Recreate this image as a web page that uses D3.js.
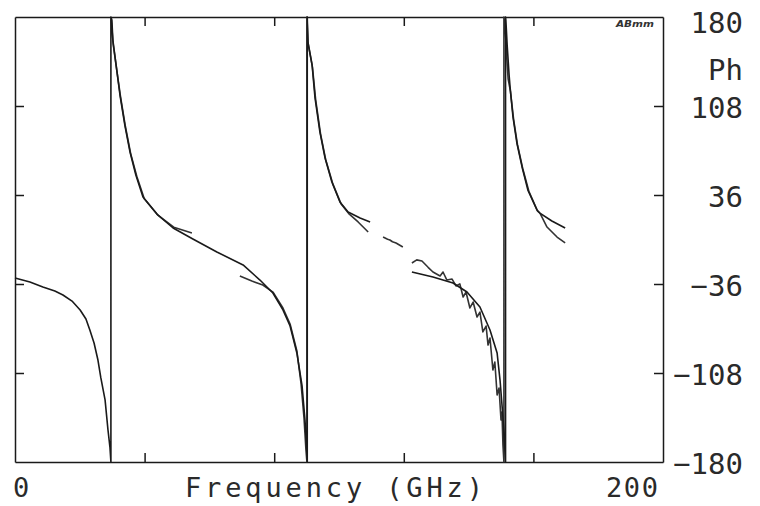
<!DOCTYPE html>
<html>
<head>
<meta charset="utf-8">
<script src="https://cdn.jsdelivr.net/npm/d3@7"></script>
<style>
  body { margin: 0; background: #fff; }
  .lbl { font-family: "DejaVu Sans Mono", monospace; font-size: 29px; fill: #2a2a2a; }
  .xlbl { font-family: "DejaVu Sans Mono", monospace; font-size: 27px; fill: #2a2a2a; }
  .axis path, .axis line { stroke: #1a1a1a; stroke-width: 1.5; }
</style>
</head>
<body>
<div id="chart"></div>
<script>
// phase (deg) vs frequency (GHz), two overlaid traces, null = gap
const freqTicks = [40, 80, 120, 160];
const phaseTicks = [108, 36, -36, -108];
const phaseLabels = [180, 108, 36, -36, -108, -180];

const traceA = [
  [0, -31.1], [4.6, -34.4], [8.6, -38.4], [12.3, -41.7], [14.8, -44.9], [17.6, -49.8], [20.1, -57.0],
  [21.9, -64.3], [23.1, -73.2], [24.4, -83.7], [25.6, -97.5], [26.5, -112.0], [27.8, -129.8],
  [28.7, -154.1], [29.3, -167.9], [29.6, -180],
  [29.6, 180], [29.9, 177.6], [30.2, 161.4], [31.2, 141.2], [32.4, 116.9], [33.9, 92.6],
  [35.5, 70.8], [37.3, 52.2], [39.5, 34.4], [43.8, 20.6], [48.8, 9.3], [54.9, 0.4],
  [62.3, -10.1], [70.4, -20.6], [75.6, -32.8], [79.6, -43.3], [82.7, -57.0], [84.9, -70.0],
  [87.0, -91.8], [88.6, -118.5], [89.5, -146.0], [90.1, -172.7], [90.2, -180],
  [90.2, 180], [90.4, 159.8], [91.7, 141.2], [92.6, 114.5], [94.1, 87.0], [95.7, 65.9],
  [97.8, 46.5], [100.3, 30.3], [102.8, 22.2], [106.5, 17.4], [109.6, 14.2],
  null,
  [122.5, -26.3], [129.0, -30.3], [135.2, -35.2], [139.5, -42.5], [143.5, -54.6],
  [146.6, -73.2], [148.8, -91.8], [149.7, -113.7], [150.6, -143.6], [151.2, -170.3], [151.4, -180],
  [151.4, 180], [151.5, 177.6], [151.9, 157.3], [152.5, 133.1], [152.8, 123.4], [153.7, 99.1],
  [154.9, 78.1], [156.5, 58.7], [158.3, 40.0], [161.1, 23.9], [162.0, 21.4], [165.7, 15.0], [169.8, 9.3]
];

const traceB = [
  [29.7, 178], [30.3, 158], [31.3, 139], [32.6, 115], [34.1, 91], [35.7, 69.5], [37.6, 51],
  [39.9, 33], [44.2, 19.5], [49.0, 10], [54.6, 5.3],
  null,
  [69.4, -29.5], [73.1, -33.6], [76.5, -36.8], [79.6, -42.5], [82.7, -55.4], [84.9, -68.4],
  [87.0, -90.2], [88.3, -116.9], [89.2, -144.4], [89.8, -170.3], [90.1, -180],
  [90.1, 180], [90.5, 158], [91.8, 139.5], [92.8, 113], [94.3, 85.5], [95.9, 64.5], [98.1, 45],
  [100.6, 29], [103.0, 21], [105.9, 14.2], [109.0, 6.1],
  null,
  [113.6, 2.0], [115.0, 0.2], [115.7, -0.4], [116.5, -1.8], [117.6, -2.8], [119.7, -6.1],
  null,
  [122.5, -19.0], [124.0, -16.5], [125.6, -17.4], [127.5, -22.5], [129.0, -26.3], [131.2, -29.5],
  [132.1, -26.3], [133.3, -32.8], [134.9, -32.0], [136.1, -37.6], [137.3, -35.9], [138.3, -46.5],
  [139.2, -42.5], [140.4, -55.4], [141.4, -50.6], [142.6, -62.7], [143.5, -58.7], [144.4, -74.8],
  [145.4, -70.0], [146.0, -85.4], [146.6, -79.7], [147.5, -105.6], [148.1, -99.1], [148.8, -125.8],
  [149.4, -120.1], [150.0, -146.0], [150.3, -139.6], [150.6, -166.2], [150.9, -180],
  [150.9, 180], [151.3, 172], [151.7, 150], [152.2, 130], [152.9, 120], [153.9, 97], [155.1, 76.5],
  [156.7, 57.5], [158.6, 39], [161.3, 23], [162.1, 21], [164.2, 10.1], [167.3, 2.0], [169.8, -2.8]
];

let margin = { top: 17, left: 15, right: 97, bottom: 44 };
let width = 760 - margin.left - margin.right;   // 648
let height = 506 - margin.top - margin.bottom;  // 445

let svg = d3.select("#chart").append("svg")
  .attr("width", 760)
  .attr("height", 506);

let x = d3.scaleLinear().domain([0, 200]).range([margin.left, margin.left + width]);
let y = d3.scaleLinear().domain([-180, 180]).range([margin.top + height, margin.top]);

// frame + inward ticks
svg.append("g").attr("class", "axis")
  .attr("transform", "translate(0," + y(-180) + ")")
  .call(d3.axisBottom(x).tickValues(freqTicks).tickSize(-9).tickSizeOuter(0).tickFormat(""));
svg.append("g").attr("class", "axis")
  .attr("transform", "translate(0," + y(180) + ")")
  .call(d3.axisTop(x).tickValues(freqTicks).tickSize(-9).tickSizeOuter(0).tickFormat(""));
svg.append("g").attr("class", "axis")
  .attr("transform", "translate(" + x(0) + ",0)")
  .call(d3.axisLeft(y).tickValues(phaseTicks).tickSize(-9).tickSizeOuter(0).tickFormat(""));
svg.append("g").attr("class", "axis")
  .attr("transform", "translate(" + x(200) + ",0)")
  .call(d3.axisRight(y).tickValues(phaseTicks).tickSize(-9).tickSizeOuter(0).tickFormat(""));

let line = d3.line()
  .defined(d => d !== null)
  .x(d => x(d[0]))
  .y(d => y(d[1]));

svg.append("path").datum(traceB)
  .attr("d", line)
  .attr("fill", "none")
  .attr("stroke", "#333")
  .attr("stroke-width", 1.6)
  .attr("stroke-linejoin", "round");

svg.append("path").datum(traceA)
  .attr("d", line)
  .attr("fill", "none")
  .attr("stroke", "#1a1a1a")
  .attr("stroke-width", 1.6)
  .attr("stroke-linejoin", "round");

// right-hand phase labels
svg.selectAll(".ylab")
  .data(phaseLabels)
  .enter().append("text")
  .attr("class", "lbl ylab")
  .attr("x", 743)
  .attr("y", d => Math.max(y(d) + 2, 23))
  .attr("dy", "0.35em")
  .attr("text-anchor", "end")
  .text(d => d < 0 ? "\u2212" + Math.abs(d) : d);

svg.append("text").attr("class", "lbl")
  .attr("x", 743).attr("y", 70).attr("dy", "0.35em")
  .attr("text-anchor", "end")
  .text("Ph");

// bottom labels
svg.append("text").attr("class", "xlbl")
  .attr("x", x(0) - 2).attr("y", 497)
  .text("0");
svg.append("text").attr("class", "xlbl")
  .attr("x", x(200) - 5).attr("y", 497)
  .attr("text-anchor", "end")
  .attr("textLength", 52).attr("lengthAdjust", "spacing")
  .text("200");
svg.append("text").attr("class", "xlbl")
  .attr("x", 185).attr("y", 497)
  .attr("textLength", 298).attr("lengthAdjust", "spacing")
  .text("Frequency (GHz)");

svg.append("text")
  .attr("x", 654).attr("y", 27)
  .attr("text-anchor", "end")
  .attr("textLength", 38).attr("lengthAdjust", "spacingAndGlyphs")
  .style("font-family", "DejaVu Sans, sans-serif")
  .style("font-size", "9px")
  .style("font-weight", "bold")
  .style("font-style", "italic")
  .style("fill", "#333")
  .text("ABmm");
</script>
</body>
</html>
